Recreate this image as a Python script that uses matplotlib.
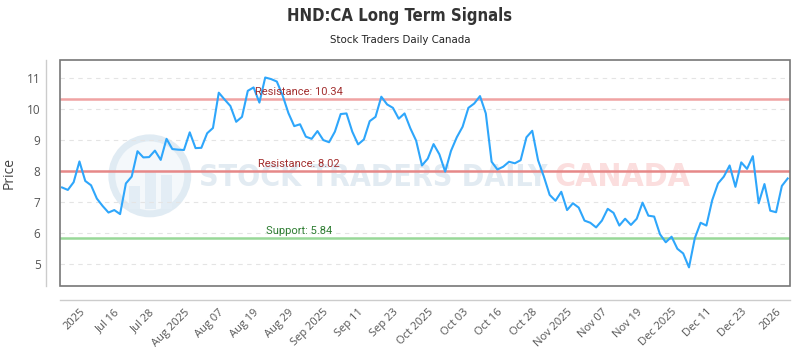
import matplotlib
matplotlib.use("Agg")
import matplotlib.pyplot as plt
from matplotlib import font_manager
from matplotlib.font_manager import FontProperties
from matplotlib.patches import Rectangle, Ellipse

# daily closes
prices = [
    7.48, 7.40, 7.65, 8.32, 7.69, 7.55, 7.12, 6.88, 6.67, 6.75,
    6.62, 7.61, 7.83, 8.65, 8.45, 8.46, 8.67, 8.37, 9.05, 8.72,
    8.70, 8.69, 9.26, 8.75, 8.76, 9.23, 9.40, 10.54, 10.32, 10.11,
    9.60, 9.76, 10.60, 10.71, 10.22, 11.03, 10.98, 10.90, 10.45, 9.88,
    9.46, 9.52, 9.12, 9.05, 9.30, 9.01, 8.94, 9.28, 9.85, 9.87,
    9.28, 8.87, 9.03, 9.62, 9.76, 10.41, 10.16, 10.05, 9.70, 9.87,
    9.39, 8.99, 8.19, 8.41, 8.88, 8.55, 7.99, 8.66, 9.10, 9.44,
    10.05, 10.19, 10.43, 9.87, 8.31, 8.06, 8.15, 8.31, 8.26, 8.36,
    9.10, 9.31, 8.36, 7.83, 7.24, 7.05, 7.34, 6.75, 6.97, 6.83,
    6.41, 6.34, 6.19, 6.41, 6.79, 6.66, 6.25, 6.47, 6.27, 6.47,
    6.99, 6.57, 6.54, 5.97, 5.71, 5.89, 5.50, 5.35, 4.90, 5.84,
    6.34, 6.25, 7.07, 7.61, 7.83, 8.19, 7.50, 8.29, 8.08, 8.49,
    6.97, 7.59, 6.73, 6.68, 7.53, 7.77,
]

x_labels = ["2025", "Jul 16", "Jul 28", "Aug 2025", "Aug 07", "Aug 19",
            "Aug 29", "Sep 2025", "Sep 11", "Sep 23", "Oct 2025", "Oct 03",
            "Oct 16", "Oct 28", "Nov 2025", "Nov 07", "Nov 19", "Dec 2025",
            "Dec 11", "Dec 23", "2026"]

level_names = ["Resistance", "Resistance", "Support"]
level_values = [10.34, 8.02, 5.84]
level_colors = ["#f0a3a3", "#e68888", "#98d898"]
level_text_colors = ["#a33030", "#a33030", "#2e7d32"]


def narrow_font(bold=False):
    # look for a condensed / narrow face, fall back to Roboto
    files = [f for f in font_manager.fontManager.ttflist
             if ("Condensed" in f.fname or "Narrow" in f.fname)
             and "Italic" not in f.fname and "Oblique" not in f.fname]
    for f in files:
        is_bold = (f.weight in ("bold", 700)) or "Bold" in f.fname
        if is_bold == bold and "Light" not in f.fname and "Semi" not in f.fname:
            return FontProperties(fname=f.fname)
    return FontProperties(family="Roboto", weight="bold" if bold else "normal")


fig = plt.figure(figsize=(8, 3.5), dpi=100)
ax = fig.add_axes([0.075, 0.183, 0.9125, 0.646])

# spines first: set_position resets the ticks
for s in ["top", "right"]:
    ax.spines[s].set_visible(False)
for s in ["left", "bottom"]:
    ax.spines[s].set_position(("outward", 10))
    ax.spines[s].set_color("#cccccc")
    ax.spines[s].set_linewidth(1)

idx = list(range(len(prices)))

# watermark
wm = narrow_font(bold=True)
wm.set_size(21.7)
ax.text(0.19, 0.478, "STOCK TRADERS DAILY", transform=ax.transAxes,
        fontproperties=wm, color="#e2ebf2", va="center", ha="left", zorder=0)
wm2 = wm.copy()
wm2.set_size(23)
ax.text(0.678, 0.478, "CANADA", transform=ax.transAxes,
        fontproperties=wm2, color="#fbdede", va="center", ha="left", zorder=0)
ax.add_patch(Ellipse((0.123, 0.487), 0.104, 0.336, transform=ax.transAxes,
                     fill=True, facecolor="#f4f8fb", edgecolor="#e0ebf3", lw=5, zorder=0))
for bx, bh in [(0.095, 0.10), (0.117, 0.17), (0.139, 0.15)]:
    ax.add_patch(Rectangle((bx, 0.34), 0.014, bh, transform=ax.transAxes,
                           facecolor="#e3edf5", edgecolor="none", zorder=0))

ax.plot(idx, prices, color="#2ea6fb", lw=1.5, zorder=3)

for name, val, c, tc in zip(level_names, level_values, level_colors, level_text_colors):
    ax.axhline(val, color=c, lw=1.8, zorder=2)
    ax.annotate(f"{name}: {val:.2f}", xy=(40.8, val), xytext=(0, 1.5),
                textcoords="offset points", ha="center", va="bottom",
                fontsize=8, family="Roboto", color=tc, zorder=4)

ax.set_xlim(-0.35, len(prices) - 0.6)
ax.set_ylim(4.3, 11.6)

ax.set_yticks([5, 6, 7, 8, 9, 10, 11])
ax.yaxis.grid(True, ls=(0, (4, 4)), color="#e4e4e4", lw=0.8)
ax.set_axisbelow(True)

tick_idx = [3 + 6 * k for k in range(len(x_labels))]
ax.set_xticks(tick_idx)
ax.set_xticklabels(x_labels)
ax.tick_params(axis="x", length=0, pad=5, labelsize=8, labelcolor="#555555",
               labelrotation=45)
ax.tick_params(axis="y", length=0, pad=4, labelsize=8.5, labelcolor="#555555")
plt.setp(ax.get_xticklabels(), ha="right", rotation_mode="anchor", family="Open Sans")
plt.setp(ax.get_yticklabels(), family="Open Sans")

ax.set_ylabel("Price", fontsize=10, family="Open Sans", color="#444444")
ax.yaxis.set_label_coords(-0.06, 0.5)

ax.add_patch(Rectangle((0, 0), 1, 1, transform=ax.transAxes, fill=False,
                       edgecolor="#777777", lw=1.2, clip_on=False, zorder=5))

tf = narrow_font(bold=True)
tf.set_size(12)
fig.text(0.5, 1 - 16 / 350, "HND:CA Long Term Signals", ha="center", va="center",
         fontproperties=tf, color="#333333")
sf = narrow_font(bold=False)
sf.set_size(8.2)
fig.text(0.5, 1 - 40 / 350, "Stock Traders Daily Canada", ha="center", va="center",
         fontproperties=sf, color="#222222")

fig.savefig("out.png", dpi=100)
